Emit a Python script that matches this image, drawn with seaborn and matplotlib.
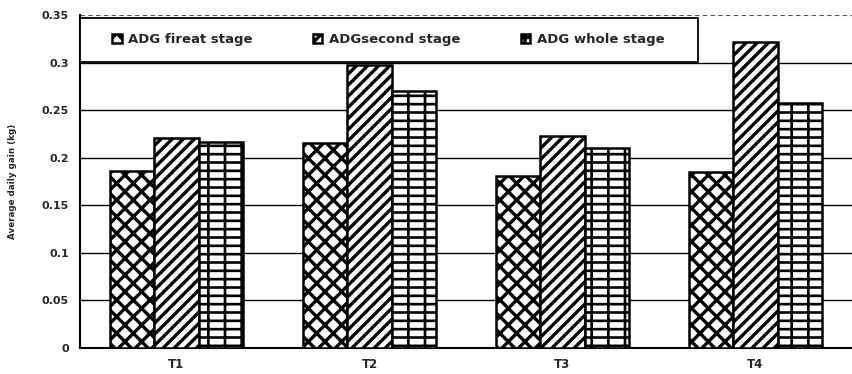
import matplotlib
matplotlib.use("Agg")
import matplotlib.pyplot as plt
from matplotlib.patches import Rectangle
import seaborn as sns
import pandas as pd

categories = ["T1", "T2", "T3", "T4"]
series_names = ["ADG fireat stage", "ADGsecond stage", "ADG whole stage"]
adg_first = [0.186, 0.215, 0.181, 0.185]
adg_second = [0.221, 0.297, 0.223, 0.322]
adg_whole = [0.216, 0.270, 0.210, 0.258]
y_ticks = [0, 0.05, 0.1, 0.15, 0.2, 0.25, 0.3, 0.35]
y_tick_labels = ["0", "0.05", "0.1", "0.15", "0.2", "0.25", "0.3", "0.35"]
hatches = ["xx", "///", "+-"]
hatch_widths = [2.4, 2.4, 1.9]

rows = []
for name, vals in zip(series_names, [adg_first, adg_second, adg_whole]):
    for c, v in zip(categories, vals):
        rows.append({"Treatment": c, "Series": name, "ADG": v})
df = pd.DataFrame(rows)

sns.set_theme(style="white")
plt.rcParams["font.family"] = ["DejaVu Sans"]
plt.rcParams["hatch.linewidth"] = 2.4
plt.rcParams["hatch.color"] = "black"

fig = plt.figure(figsize=(8.52, 3.74), dpi=100)
ax = fig.add_axes([80 / 852, 1 - 348 / 374, 1 - 80 / 852, (348 - 15) / 374])

sns.barplot(data=df, x="Treatment", y="ADG", hue="Series", order=categories,
            hue_order=series_names, palette=["white"] * 3, edgecolor="black",
            linewidth=1.8, width=0.69, gap=0, saturation=1, legend=False,
            errorbar=None, ax=ax, zorder=3)

for cont, h, hw in zip(ax.containers, hatches, hatch_widths):
    for p in cont.patches:
        p.set_hatch(h)
        if hasattr(p, "set_hatch_linewidth"):
            p.set_hatch_linewidth(hw)
        p.set_edgecolor("black")

ax.set_ylim(0, 0.35)
ax.set_xlim(-0.5, 3.5)
ax.set_yticks(y_ticks)
ax.set_yticklabels(y_tick_labels, fontsize=8, fontweight="bold")
ax.set_xticks(range(len(categories)))
ax.set_xticklabels(categories, fontsize=8.5, fontweight="bold")
ax.set_xticks([0.5, 1.5, 2.5], minor=True)
ax.tick_params(axis="x", which="major", length=0, pad=7)
ax.tick_params(axis="x", which="minor", length=3, width=1, direction="out", color="black")
ax.tick_params(axis="y", which="major", length=5, width=1, direction="out", color="black", pad=3)
ax.yaxis.grid(True, color="black", linewidth=1.0, zorder=0)
ax.set_axisbelow(True)
gl = ax.yaxis.get_gridlines()
gl[-1].set_linestyle((0, (4, 3)))
gl[-1].set_color("#555555")
gl[-1].set_linewidth(0.8)
for s in ["top", "right"]:
    ax.spines[s].set_visible(False)
for s in ["left", "bottom"]:
    ax.spines[s].set_color("black")
    ax.spines[s].set_linewidth(1.5)
ax.set_xlabel("")
ax.set_ylabel("Average daily gain (kg)", fontsize=6.3, fontweight="bold")
ax.yaxis.set_label_coords(-0.082, 0.5)

leg = ax.legend(ax.containers, series_names, loc="center left",
                bbox_to_anchor=(0.042, 0.859, 0.715, 0.132), mode="expand", ncol=3,
                borderaxespad=0, frameon=False,
                prop={"size": 9.5, "weight": "bold"},
                handlelength=0.7, handleheight=0.7, handletextpad=0.5,
                borderpad=0.0)
leg.set_zorder(5)
frame = Rectangle((0, 0.859), 0.8, 0.132, transform=ax.transAxes,
                  facecolor="white", edgecolor="black", linewidth=1.3, zorder=4)
ax.add_patch(frame)

fig.savefig("out.png", dpi=100)
